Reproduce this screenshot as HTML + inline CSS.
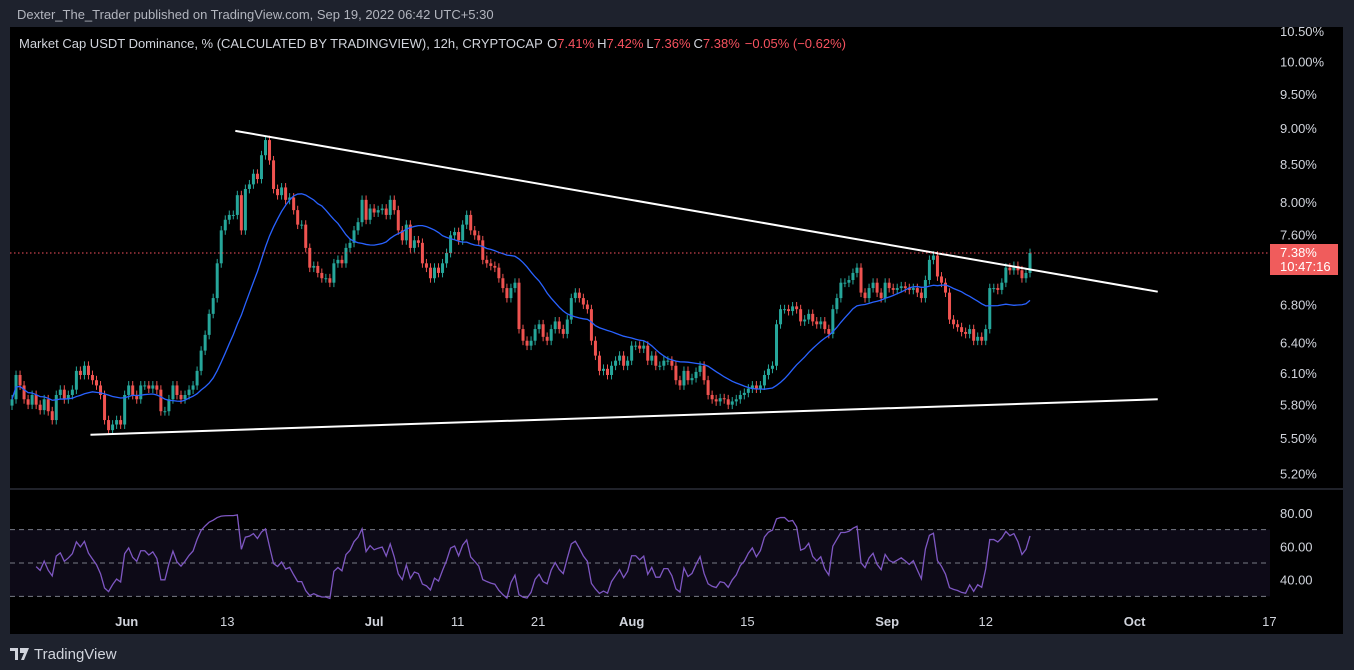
<!DOCTYPE html>
<html><head><meta charset="utf-8">
<style>
body{margin:0;background:#1e222d;width:1354px;height:670px;overflow:hidden;font-family:"Liberation Sans",sans-serif}
svg{position:absolute;left:0;top:0}
</style></head>
<body>
<svg id="c" width="1354" height="670"></svg>
<script>
const closes=[5.85,6.08,5.98,5.85,5.80,5.89,5.80,5.75,5.85,5.74,5.66,5.89,5.94,5.85,5.89,5.94,
6.12,6.08,6.17,6.08,6.03,5.98,5.89,5.66,5.57,5.62,5.66,5.62,
5.89,5.98,5.89,5.85,5.98,5.98,5.95,5.98,5.94,5.74,5.74,5.85,5.98,5.89,5.85,5.89,5.94,5.98,
6.12,6.32,6.48,6.70,6.87,7.26,7.65,7.78,7.84,7.84,8.09,7.65,8.17,8.23,8.37,8.30,8.62,8.83,8.55,8.17,8.09,8.19,8.03,8.06,7.90,7.72,7.72,7.44,7.21,7.23,7.15,7.09,7.09,7.04,7.26,7.30,7.26,7.44,7.50,7.65,7.75,8.03,7.78,7.92,7.87,7.90,7.92,7.84,8.03,7.90,7.65,7.53,7.72,7.44,7.53,7.50,7.26,7.21,7.09,7.21,7.15,7.26,7.38,7.59,7.63,7.53,7.72,7.84,7.65,7.59,7.53,7.30,7.26,7.23,7.21,7.09,6.98,6.87,6.98,7.04,6.54,6.42,6.37,6.42,6.54,6.59,6.46,6.42,6.54,6.62,6.54,6.49,6.64,6.87,6.93,6.87,6.80,6.75,6.42,6.27,6.12,6.14,6.08,6.17,6.22,6.27,6.17,6.22,6.37,6.37,6.34,6.37,6.22,6.27,6.17,6.17,6.22,6.22,6.17,6.03,5.98,6.12,6.03,6.05,6.11,6.17,6.03,5.89,5.85,5.83,5.86,5.85,5.80,5.83,5.85,5.89,5.91,5.95,5.98,5.95,5.98,6.08,6.14,6.17,6.59,6.75,6.75,6.73,6.78,6.75,6.62,6.64,6.70,6.62,6.59,6.62,6.54,6.49,6.75,6.87,7.04,7.04,7.07,7.15,7.21,6.93,6.87,6.98,7.04,6.93,6.87,7.04,6.98,6.96,6.98,7.00,6.98,6.96,6.98,6.93,6.87,7.07,7.30,7.35,7.11,7.04,6.93,6.64,6.59,6.56,6.51,6.49,6.54,6.42,6.46,6.42,6.54,6.98,6.98,6.96,7.04,7.21,7.18,7.23,7.18,7.09,7.15,7.38];
const priceTicks=[10.5,10,9.5,9,8.5,8,7.6,6.8,6.4,6.1,5.8,5.5,5.2];
const rsiTicks=[80,60,40];
const timeLabels=["Jun","13","Jul","11","21","Aug","15","Sep","12","Oct","17"];
const timeIdx=[28.5,53.5,90,110.75,130.75,154,182.75,217.5,242,279,312.5];
const trendUpper=[[55.5,8.96],[284.75,6.94]];
const trendLower=[[19.5,5.53],[284.75,5.85]];

const svg=document.getElementById('c');const NS='http://www.w3.org/2000/svg';
function el(t,a,p){const e=document.createElementNS(NS,t);for(const k in a)e.setAttribute(k,a[k]);(p||svg).appendChild(e);return e;}
const n=closes.length;const x0=12,step=(1030-12)/(n-1);
const X=i=>x0+i*step;
const Y=p=>31+(Math.log(10.5)-Math.log(p))*629.6;
const RY=v=>563-(v-50)*1.67;
let r=el('rect',{x:10,y:27,width:1333,height:607,fill:'#000'});

el('line',{x1:10,y1:489,x2:1343,y2:489,stroke:'#2a2e39','stroke-width':1.5});
let t=el('text',{x:17,y:19,fill:'#b2b5be','font-size':13});t.textContent='Dexter_The_Trader published on TradingView.com, Sep 19, 2022 06:42 UTC+5:30';

t=el('text',{x:19,y:48,fill:'#d1d4dc','font-size':13});
t.innerHTML='Market Cap USDT Dominance, % (CALCULATED BY TRADINGVIEW), 12h, CRYPTOCAP <tspan dx="1">O</tspan><tspan fill="#f7525f">7.41%</tspan><tspan dx="3">H</tspan><tspan fill="#f7525f">7.42%</tspan><tspan dx="3">L</tspan><tspan fill="#f7525f">7.36%</tspan><tspan dx="3">C</tspan><tspan fill="#f7525f">7.38%</tspan><tspan fill="#f7525f" dx="5">−0.05% (−0.62%)</tspan>';

priceTicks.forEach(p=>{const e=el('text',{x:1280,y:Y(p)+5,fill:'#d1d4dc','font-size':13});e.textContent=p.toFixed(2)+'%';
});
el('rect',{x:10,y:RY(70),width:1260,height:RY(30)-RY(70),fill:'#0d0a17'});
[70,50,30].forEach(v=>el('line',{x1:10,y1:RY(v),x2:1270,y2:RY(v),stroke:'#787b86','stroke-dasharray':'5,4','stroke-width':1}));
rsiTicks.forEach(v=>{const e=el('text',{x:1280,y:RY(v)+5,fill:'#d1d4dc','font-size':13});e.textContent=v.toFixed(2);
});
timeLabels.forEach((s,k)=>{const e=el('text',{x:X(timeIdx[k]),y:626,fill:'#d1d4dc','font-size':13,'text-anchor':'middle','font-weight':(isNaN(+s)?'bold':'normal')});e.textContent=s;
});
const g=el('g',{});
for(let i=0;i<n;i++){const c=closes[i],o=i?closes[i-1]:c*0.99;const up=c>=o;const col=up?'#26a69a':'#ef5350';
const hi=Math.max(o,c)*1.007,lo=Math.min(o,c)*0.993;const x=X(i);
el('line',{x1:x,y1:Y(hi),x2:x,y2:Y(lo),stroke:col,'stroke-width':1},g);
const b=el('rect',{x:x-1.5,y:Y(Math.max(o,c)),width:3,height:Math.max(1,Y(Math.min(o,c))-Y(Math.max(o,c))),fill:col},g);
}
let pts=[];for(let i=0;i<n;i++){const s=Math.max(0,i-19);let a=0;for(let j=s;j<=i;j++)a+=closes[j];pts.push(X(i)+','+Y(a/(i-s+1)));}
let m=el('polyline',{points:pts.join(' '),fill:'none',stroke:'#2962ff','stroke-width':1.3});

[[trendUpper,'upper-trendline'],[trendLower,'lower-trendline']].forEach(([tl,nm])=>{const l=el('line',{x1:X(tl[0][0]),y1:Y(tl[0][1]),x2:X(tl[1][0]),y2:Y(tl[1][1]),stroke:'#fff','stroke-width':2});
});
const lp=closes[n-1];
el('line',{x1:10,y1:Y(lp),x2:1268,y2:Y(lp),stroke:'#f7525f','stroke-dasharray':'1.5,2.5','stroke-width':1});
let bx=el('rect',{x:1270,y:Y(lp)-9,width:68,height:31,fill:'#f05c5c'});

t=el('text',{x:1280,y:Y(lp)+4,fill:'#fff','font-size':13});t.textContent=lp.toFixed(2)+'%';
t=el('text',{x:1280,y:Y(lp)+18,fill:'#fff','font-size':13});t.textContent='10:47:16';
let ag=0,al=0,rp=[];const P=6;
for(let i=1;i<n;i++){const d=closes[i]-closes[i-1];const gn=Math.max(d,0),ls=Math.max(-d,0);
if(i<=P){ag+=gn/P;al+=ls/P;}else{ag=(ag*(P-1)+gn)/P;al=(al*(P-1)+ls)/P;}
if(i<P)continue;
let rsi=al===0?100:100-100/(1+ag/al);rsi=50+(rsi-50)*0.6;
rp.push(X(i)+','+RY(Math.min(90,Math.max(25,rsi))));}
let rl=el('polyline',{points:rp.join(' '),fill:'none',stroke:'#7e57c2','stroke-width':1.3});

t=el('text',{x:34,y:659,fill:'#d1d4dc','font-size':15});t.textContent='TradingView';

el('path',{d:'M10 648h8v12h-3v-9h-5zM20 648h9l-5 12h-3l3-7h-4z',fill:'#d1d4dc'});
</script>
</body></html>
